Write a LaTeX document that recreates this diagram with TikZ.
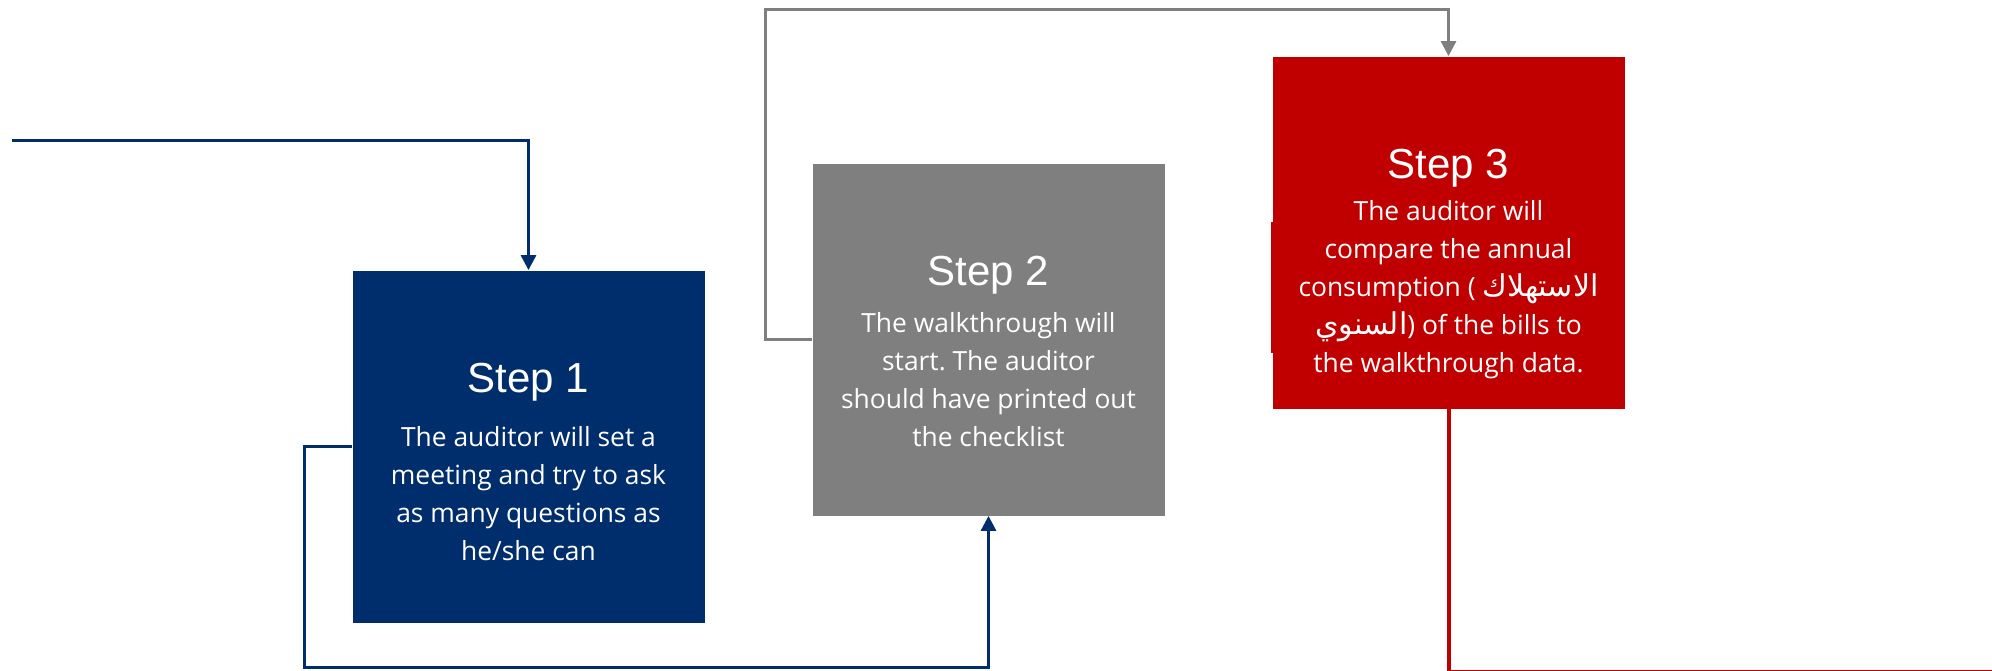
\documentclass[tikz,border=0pt]{standalone}
\usepackage{fontspec}
\setmainfont{Open Sans}
\newfontfamily\titlefont{Liberation Sans}
\newfontfamily\arabicfont[Script=Arabic]{DejaVu Sans}
\TeXXeTstate=1
\frenchspacing
\usetikzlibrary{arrows.meta,positioning}
\definecolor{stepblue}{RGB}{0,46,108}
\definecolor{stepgray}{RGB}{127,127,127}
\definecolor{stepred}{RGB}{192,0,0}
\newcommand{\ar}[1]{{\arabicfont\fontsize{15pt}{19pt}\selectfont\beginR #1\endR}}

\begin{document}
\begin{tikzpicture}[x=0.5pt,y=-0.5pt,>={Triangle[width=7.5pt,length=7.5pt]},
  stepbox/.style={minimum width=176pt,minimum height=176pt,inner sep=0pt,draw=none},
  steptitle/.style={anchor=base,inner sep=0pt,text=white,font=\titlefont\fontsize{21pt}{24pt}\selectfont},
  stepbody/.style={anchor=north,inner sep=0pt,align=center,text=white,font=\fontsize{13.2pt}{19pt}\selectfont},
  link/.style={line width=1.5pt}]
\useasboundingbox (0,0) rectangle (1992,670);
% the three steps
\fill[stepred] (1271,222) rectangle (1275,353);
\node[stepbox,fill=stepblue] (s1) at (528.5,446.5) {};
\node[stepbox,fill=stepgray] (s2) at (988.5,339.5) {};
\node[stepbox,fill=stepred] (s3) at (1448.5,232.5) {};
\node[steptitle] (t1) at ([yshift=-61pt]s1.north) {Step 1};
\node[steptitle] (t2) at ([yshift=-61pt]s2.north) {Step 2};
\node[steptitle] (t3) at ([yshift=-61pt]s3.north) {Step 3};
\node[stepbody] (b1) at ([yshift=-78pt]s1.north) {The auditor will set a\\meeting and try to ask\\as many questions as\\he/she can};
\node[stepbody] (b2) at ([yshift=-74.5pt]s2.north) {The walkthrough will\\start. The auditor\\should have printed out\\the checklist};
\node[stepbody] (b3) at ([yshift=-72pt]s3.north) {The auditor will\\compare the annual\\consumption ( \ar{الاستهلاك}\\\ar{السنوي}) of the bills to\\the walkthrough data.};
% connectors
\coordinate (in1) at (12,140);
\draw[link,stepblue,->] (in1) -| (s1.north);
\draw[link,stepblue,->] (s1.west) -- ++(-48,0) -- ++(0,221) -| (s2.south);
\draw[link,stepgray,->] (s2.west) -- ++(-47,0) -- ++(0,-330) -| (s3.north);
\draw[link,stepred,line width=2pt] (s3.south) -- ++(0,263) -- ++(600,0);
\end{tikzpicture}
\end{document}
